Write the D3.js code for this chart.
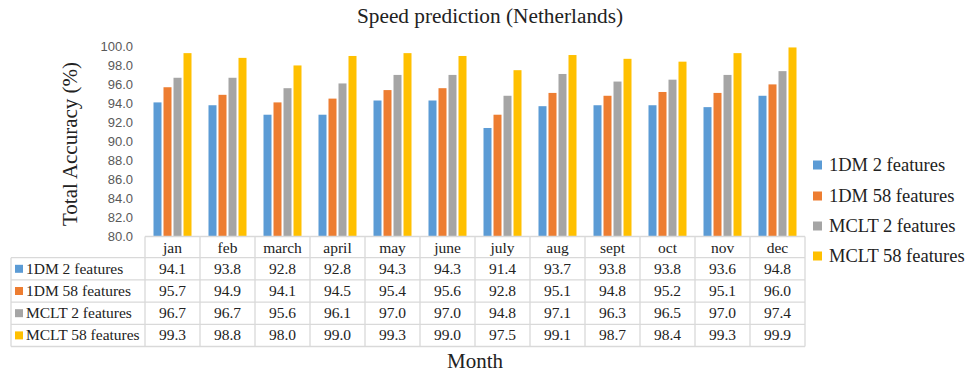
<!DOCTYPE html>
<html><head><meta charset="utf-8">
<script src="https://cdn.jsdelivr.net/npm/d3@7"></script>
<style>body{margin:0;background:#fff}svg{display:block}</style>
</head><body>
<script>
const months = ["jan","feb","march","april","may","june","july","aug","sept","oct","nov","dec"];
const seriesNames = ["1DM 2 features","1DM 58 features","MCLT 2 features","MCLT 58 features"];
const s1DM2 = [94.1,93.8,92.8,92.8,94.3,94.3,91.4,93.7,93.8,93.8,93.6,94.8];
const s1DM58 = [95.7,94.9,94.1,94.5,95.4,95.6,92.8,95.1,94.8,95.2,95.1,96.0];
const sMCLT2 = [96.7,96.7,95.6,96.1,97.0,97.0,94.8,97.1,96.3,96.5,97.0,97.4];
const sMCLT58 = [99.3,98.8,98.0,99.0,99.3,99.0,97.5,99.1,98.7,98.4,99.3,99.9];
const yTicks = [80,82,84,86,88,90,92,94,96,98,100];
const colors = ["#5B9BD5","#ED7D31","#A5A5A5","#FFC000"];
const series = [s1DM2,s1DM58,sMCLT2,sMCLT58];

const W=979,H=372;
const svg=d3.select("body").append("svg").attr("width",W).attr("height",H);
const pLeft=145,pRight=805,pTop=46.5,pBottom=236;
const serif="'Liberation Serif','Times New Roman',serif";
const sans="'Liberation Sans',Arial,sans-serif";

const x=d3.scaleBand().domain(months).range([pLeft,pRight]).paddingInner(0).paddingOuter(0);
const x1=d3.scaleBand().domain(d3.range(4)).range([8.5,x.bandwidth()-8.5]).paddingInner(0.2).paddingOuter(0);
const y=d3.scaleLinear().domain([80,100]).range([pBottom,pTop]);

// title
svg.append("text").attr("x",490).attr("y",23).attr("text-anchor","middle")
  .attr("font-family",serif).attr("font-size",21.3).attr("fill","#222").text("Speed prediction (Netherlands)");
// y axis title
svg.append("text").attr("transform","translate(77,144) rotate(-90)").attr("text-anchor","middle")
  .attr("font-family",serif).attr("font-size",21).attr("fill","#222").text("Total Accuracy  (%)");

// y axis
const yAxis=d3.axisLeft(y).tickValues(yTicks).tickFormat(d3.format(".1f")).tickSize(0).tickPadding(0);
const gy=svg.append("g").attr("transform",`translate(133,0)`).call(yAxis);
gy.select(".domain").remove();
gy.selectAll("text").attr("font-family",sans).attr("font-size",13).attr("fill","#595959");

// bars
series.forEach((s,i)=>{
  svg.append("g").selectAll("rect").data(s).join("rect")
    .attr("x",(d,j)=>x(months[j])+x1(i)).attr("width",x1.bandwidth())
    .attr("y",d=>y(d)).attr("height",d=>y(80)-y(d)).attr("fill",colors[i]);
});

// table
const rowH=22.2, tableTop=236.5, labelLeft=11;
const grid=svg.append("g").attr("stroke","#d9d9d9").attr("stroke-width",1.3).attr("fill","none");
grid.append("line").attr("x1",pLeft).attr("x2",pRight).attr("y1",tableTop).attr("y2",tableTop);
for(let r=1;r<=5;r++){
  const yy=tableTop+r*rowH-1;
  grid.append("line").attr("x1",labelLeft).attr("x2",pRight).attr("y1",yy).attr("y2",yy);
}
months.forEach((m,j)=>{
  grid.append("line").attr("x1",x(m)).attr("x2",x(m)).attr("y1",tableTop).attr("y2",tableTop+5*rowH-1);
});
grid.append("line").attr("x1",pRight).attr("x2",pRight).attr("y1",tableTop).attr("y2",tableTop+5*rowH-1);
grid.append("line").attr("x1",labelLeft).attr("x2",labelLeft).attr("y1",tableTop+rowH-1).attr("y2",tableTop+5*rowH-1);

const tt=svg.append("g").attr("font-family",serif).attr("font-size",15.5).attr("fill","#222");
months.forEach(m=>{
  tt.append("text").attr("x",x(m)+x.bandwidth()/2).attr("y",tableTop+rowH/2+5).attr("text-anchor","middle").text(m);
});
series.forEach((s,i)=>{
  const cy=tableTop+(i+1)*rowH+rowH/2-1;
  svg.append("rect").attr("x",15).attr("y",cy-4).attr("width",8).attr("height",8).attr("fill",colors[i]);
  tt.append("text").attr("x",26).attr("y",cy+5).text(seriesNames[i]);
  s.forEach((v,j)=>{
    tt.append("text").attr("x",x(months[j])+x.bandwidth()/2).attr("y",cy+5).attr("text-anchor","middle").text(v.toFixed(1));
  });
});

// x axis title
svg.append("text").attr("x",475).attr("y",368).attr("text-anchor","middle")
  .attr("font-family",serif).attr("font-size",21).attr("fill","#222").text("Month");

// legend
const legY=[165,196,226,256];
seriesNames.forEach((n,i)=>{
  svg.append("rect").attr("x",813).attr("y",legY[i]-4.5).attr("width",9).attr("height",9).attr("fill",colors[i]);
  svg.append("text").attr("x",829).attr("y",legY[i]+6).attr("font-family",serif).attr("font-size",18.5).attr("fill","#222").text(n);
});
</script>
</body></html>
